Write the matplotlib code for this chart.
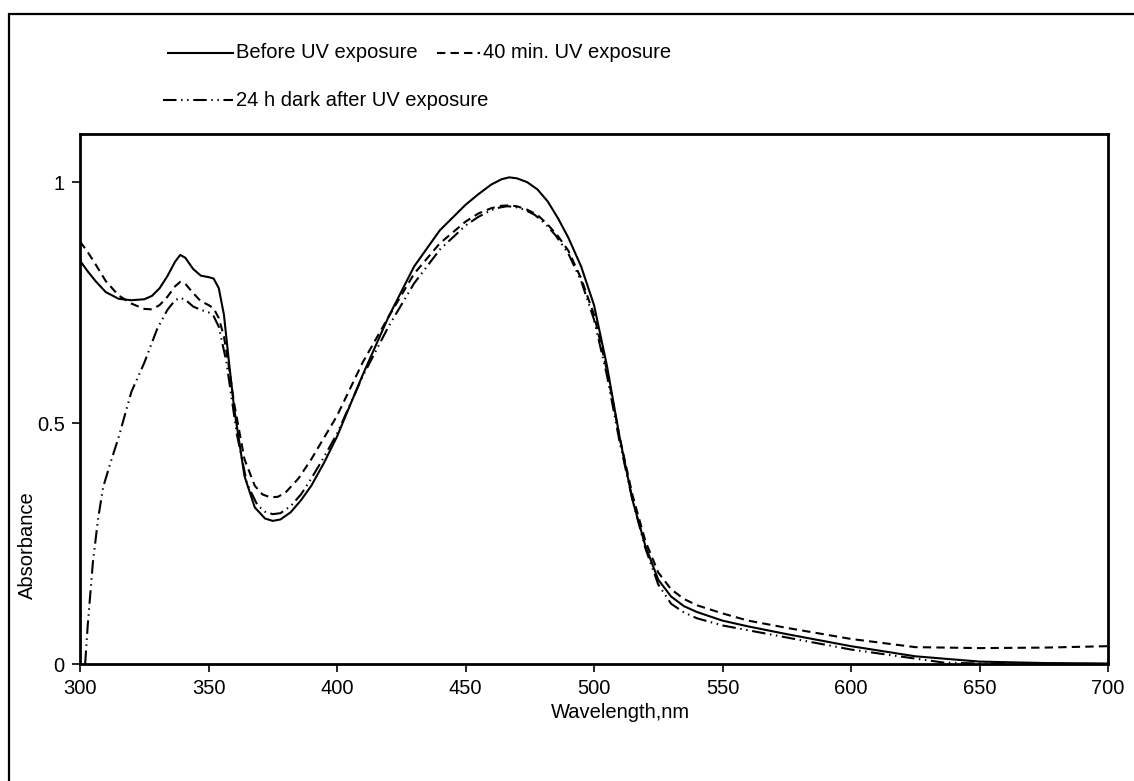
import matplotlib
matplotlib.use("Agg")
import matplotlib.pyplot as plt
from matplotlib.lines import Line2D
from matplotlib.patches import Rectangle

plt.rcParams['font.family'] = ['Liberation Sans', 'DejaVu Sans']
FS = 14.5

# ---------------- data ----------------
wl_before = [300, 303, 306, 310, 315, 320, 325, 328, 331, 334, 337, 339, 341, 344, 347, 350, 352,
             354, 356, 358, 360, 364, 368, 372, 375, 378, 382, 386, 390, 395, 400, 410, 420,
             430, 440, 450, 455, 460, 464, 467, 470, 474, 478, 482, 486, 490, 495, 500, 505,
             510, 515, 520, 525, 530, 535, 540, 550, 560, 575, 600, 625, 650, 675, 700]
abs_before = [0.837, 0.815, 0.795, 0.772, 0.758, 0.755, 0.757, 0.764, 0.780, 0.805, 0.835, 0.849,
              0.843, 0.820, 0.806, 0.803, 0.800, 0.780, 0.725, 0.625, 0.530, 0.390, 0.325,
              0.302, 0.297, 0.300, 0.315, 0.340, 0.370, 0.418, 0.472, 0.600, 0.720, 0.825,
              0.900, 0.953, 0.975, 0.995, 1.006, 1.010, 1.008, 1.000, 0.985, 0.960, 0.925,
              0.885, 0.825, 0.745, 0.620, 0.470, 0.340, 0.245, 0.175, 0.140, 0.120, 0.108,
              0.090, 0.078, 0.062, 0.037, 0.016, 0.005, 0.002, 0.001]

wl_40min = [300, 303, 306, 310, 315, 320, 325, 328, 331, 334, 337, 339, 341, 344, 347, 350, 352,
            354, 356, 358, 360, 364, 368, 371, 374, 377, 380, 385, 390, 395, 400, 410, 420,
            430, 440, 450, 455, 460, 464, 467, 470, 474, 478, 482, 486, 490, 495, 500, 505,
            510, 515, 520, 525, 530, 535, 540, 550, 560, 575, 600, 625, 650, 675, 700]
abs_40min = [0.877, 0.855, 0.830, 0.795, 0.765, 0.748, 0.737, 0.736, 0.745, 0.762, 0.784, 0.793,
             0.789, 0.770, 0.753, 0.745, 0.738, 0.718, 0.680, 0.615, 0.540, 0.425, 0.370,
             0.352, 0.346, 0.347, 0.356, 0.385, 0.425, 0.470, 0.515, 0.626, 0.720, 0.810,
             0.873, 0.918, 0.935, 0.946, 0.951, 0.952, 0.950, 0.943, 0.932, 0.912, 0.888,
             0.858, 0.800, 0.725, 0.610, 0.470, 0.350, 0.255, 0.190, 0.155, 0.135, 0.122,
             0.105, 0.090, 0.075, 0.052, 0.035, 0.033, 0.034, 0.037]

wl_dark = [302, 303, 305, 307, 309, 312, 315, 320, 325, 330, 334, 337, 339, 341, 344, 347, 350,
           352, 354, 357, 361, 365, 369, 372, 375, 378, 382, 386, 390, 395, 400, 410, 420,
           430, 440, 450, 455, 460, 463, 466, 469, 473, 477, 481, 485, 490, 495, 500, 505,
           510, 515, 520, 525, 530, 535, 540, 550, 560, 575, 600, 620, 636, 650, 700]
abs_dark = [0.000, 0.080, 0.210, 0.300, 0.367, 0.420, 0.470, 0.565, 0.625, 0.695, 0.735, 0.755,
            0.760, 0.756, 0.742, 0.735, 0.730, 0.722, 0.700, 0.626, 0.478, 0.374, 0.330,
            0.316, 0.311, 0.313, 0.328, 0.352, 0.385, 0.430, 0.478, 0.597, 0.700, 0.790,
            0.860, 0.910, 0.928, 0.942, 0.947, 0.950, 0.949, 0.943, 0.932, 0.914, 0.890,
            0.852, 0.795, 0.715, 0.600, 0.460, 0.340, 0.240, 0.165, 0.125, 0.107, 0.095,
            0.080, 0.070, 0.055, 0.030, 0.015, 0.003, 0.001, 0.000]

labels = ["Before UV exposure", "40 min. UV exposure", "24 h dark after UV exposure"]
x_ticks = [300, 350, 400, 450, 500, 550, 600, 650, 700]
y_ticks = [0, 0.5, 1]
y_ticklabels = ["0", "0.5", "1"]

# ---------------- figure ----------------
W, H = 1134, 781
fig = plt.figure(figsize=(W / 100, H / 100), dpi=100)
ax = fig.add_axes([80 / W, 1 - 664 / H, (1108 - 80) / W, (664 - 134) / H])

lw = 1.5
styles = [dict(linestyle='-'),
          dict(linestyle=(0, (4, 2.5))),
          dict(linestyle=(0, (6.5, 2.2, 0.7, 2.2, 0.7, 2.2)))]

ax.plot(wl_before, abs_before, color='black', lw=lw, **styles[0])
ax.plot(wl_40min, abs_40min, color='black', lw=lw, **styles[1])
ax.plot(wl_dark, abs_dark, color='black', lw=lw, **styles[2])

ax.set_xlim(300, 700)
ax.set_ylim(0, 1.1)
ax.set_xticks(x_ticks)
ax.set_xticklabels([str(v) for v in x_ticks])
ax.set_yticks(y_ticks)
ax.set_yticklabels(y_ticklabels)
ax.tick_params(axis='both', direction='out', length=6, width=1.2, labelsize=FS,
               colors='black', pad=5)
for s in ax.spines.values():
    s.set_linewidth(2)
    s.set_color('black')

ax.set_xlabel("Wavelength,nm", fontsize=FS)
ax.xaxis.set_label_coords((620 - 80) / 1028, -(703 - 664) / 530)
ax.set_ylabel("Absorbance", fontsize=FS)
ax.yaxis.set_label_coords((37 - 80) / 1028, (664 - 545) / 530)

# ---------------- legend (manual, Excel-like flow layout) ----------------
leg_pos = [((168, 233), 53), ((437, 480), 53), ((163, 233), 100)]
for (x0x1, yc), st, lab in zip(leg_pos, styles, labels):
    (x0, x1) = x0x1
    fig.add_artist(Line2D([x0 / W, x1 / W], [1 - yc / H, 1 - yc / H],
                          color='black', lw=lw, transform=fig.transFigure, **st))
    fig.text((x1 + 3) / W, 1 - yc / H, lab, fontsize=FS, va='center', ha='left')

# outer chart frame
fig.add_artist(Rectangle((9 / W, -0.05), 1.1, 1 - 14 / H + 0.05, fill=False,
                         edgecolor='black', lw=1.6, transform=fig.transFigure))

fig.savefig("out.png", dpi=100)
